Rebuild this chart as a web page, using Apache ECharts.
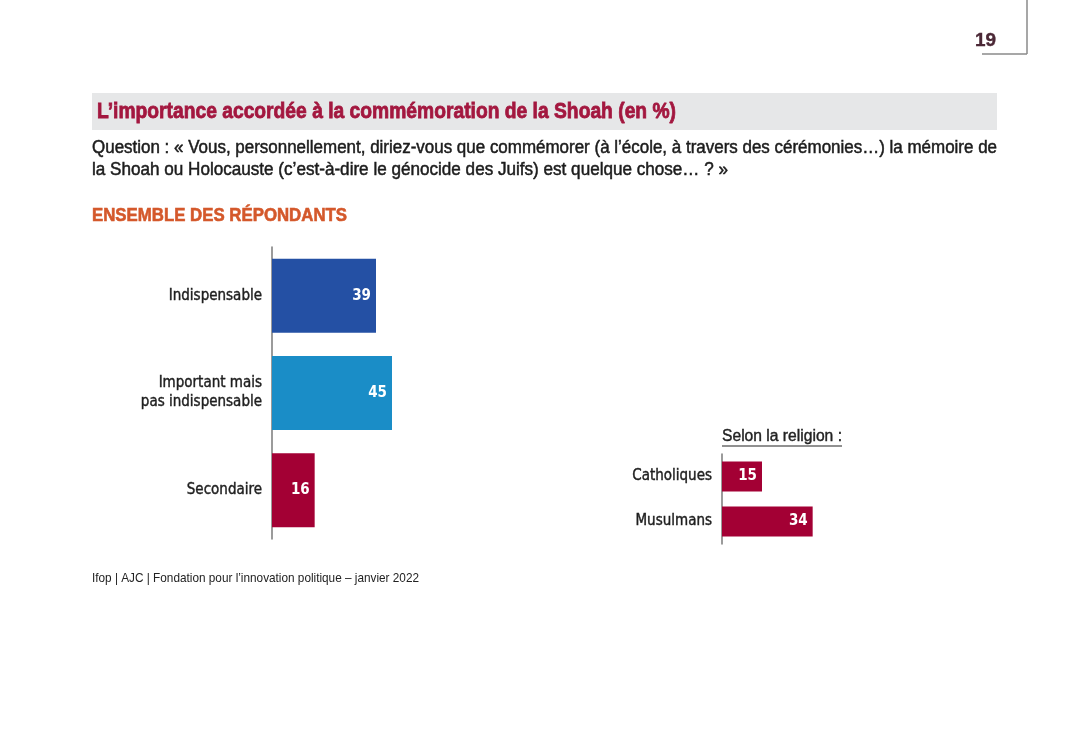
<!DOCTYPE html>
<html><head><meta charset="utf-8">
<script src="https://cdn.jsdelivr.net/npm/echarts@6/dist/echarts.min.js"></script>
<style>html,body{margin:0;padding:0;background:#fff}#c{width:1080px;height:751px}</style>
</head><body><div id="c"></div>
<script>
const FONT = '"DejaVu Sans Condensed","Liberation Sans",sans-serif';
const TFONT = '"Liberation Sans"';
const mainCategories = ['Indispensable', 'Important mais\npas indispensable', 'Secondaire'];
const mainValues = [39, 45, 16];
const mainColors = ['#2450A4', '#1A8DC7', '#A30034'];
const religionCategories = ['Catholiques', 'Musulmans'];
const religionValues = [15, 34];
const religionColor = '#A30034';

const mctx = document.createElement('canvas').getContext('2d');
function txt(text, x, y, size, weight, fill, targetW, embolden) {
  mctx.font = weight + ' ' + size + 'px ' + TFONT;
  const w = mctx.measureText(text).width;
  const style = {text: text, fontFamily: TFONT, fontSize: size, fontWeight: weight, fill: fill, verticalAlign: 'middle'};
  if (embolden) { style.stroke = fill; style.lineWidth = embolden; }
  return {type: 'text', x: x, y: y, scaleX: targetW / w, style: style};
}

const chart = echarts.init(document.getElementById('c'), null, {renderer: 'canvas'});
const catAxis = (gi) => ({
  type: 'category', gridIndex: gi, inverse: true,
  data: gi === 0 ? mainCategories : religionCategories,
  axisLine: {show: true, lineStyle: {color: '#7a7a7a', width: 1.5}},
  axisTick: {show: false},
  axisLabel: {fontFamily: FONT, fontSize: 15, color: '#1e1e1e', margin: 10, lineHeight: 19, align: 'right',
    textBorderColor: '#1e1e1e', textBorderWidth: 0.4}
});
const valAxis = (gi) => ({
  type: 'value', gridIndex: gi, min: 0, max: 100,
  show: false, splitLine: {show: false}
});
const lbl = {show: true, position: 'insideRight', distance: 5, color: '#fff', fontFamily: FONT, fontSize: 15, fontWeight: 'bold'};
chart.setOption({
  animation: false,
  grid: [
    {left: 272, top: 247, width: 266.67, height: 292},
    {left: 722, top: 454, width: 266.67, height: 90}
  ],
  xAxis: [valAxis(0), valAxis(1)],
  yAxis: [catAxis(0), catAxis(1)],
  series: [
    {type: 'bar', xAxisIndex: 0, yAxisIndex: 0, barWidth: 74,
     data: mainValues.map((v, i) => ({value: v, itemStyle: {color: mainColors[i]}})), label: lbl},
    {type: 'bar', xAxisIndex: 1, yAxisIndex: 1, barWidth: 30,
     itemStyle: {color: religionColor}, data: religionValues, label: lbl}
  ],
  graphic: [
    txt('19', 975, 41, 18, 'bold', '#4B2836', 21, 0.4),
    {type: 'line', shape: {x1: 1027, y1: 0, x2: 1027, y2: 54}, style: {stroke: '#8a8a8a', lineWidth: 1.5}},
    {type: 'line', shape: {x1: 982, y1: 54, x2: 1027, y2: 54}, style: {stroke: '#8a8a8a', lineWidth: 1.5}},
    {type: 'rect', shape: {x: 92, y: 93, width: 905, height: 37}, style: {fill: '#E6E7E8'}},
    txt('L’importance accordée à la commémoration de la Shoah (en %)', 97, 112, 22, 'bold', '#A3173F', 579, 0.8),
    txt('Question : « Vous, personnellement, diriez-vous que commémorer (à l’école, à travers des cérémonies…) la mémoire de', 92, 148, 18, 'normal', '#1c1c1c', 905, 0.5),
    txt('la Shoah ou Holocauste (c’est-à-dire le génocide des Juifs) est quelque chose… ? »', 92, 170, 18, 'normal', '#1c1c1c', 636, 0.5),
    txt('ENSEMBLE DES RÉPONDANTS', 92, 216, 19, 'bold', '#D4582B', 255, 0.6),
    txt('Selon la religion :', 722, 437, 16, 'normal', '#222', 120, 0.4),
    {type: 'line', shape: {x1: 722, y1: 446, x2: 842, y2: 446}, style: {stroke: '#222', lineWidth: 1.2}},
    txt('Ifop | AJC | Fondation pour l’innovation politique – janvier 2022', 92, 578, 13, 'normal', '#222', 327)
  ]
});
</script></body></html>
